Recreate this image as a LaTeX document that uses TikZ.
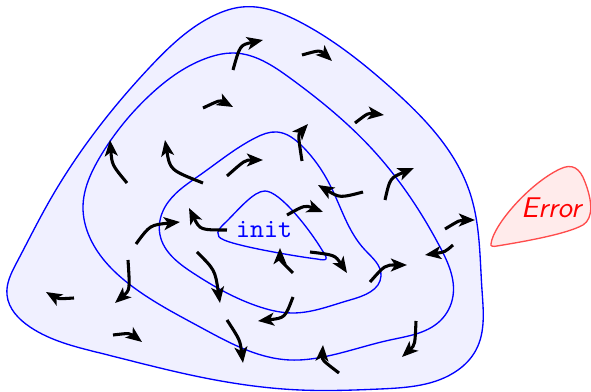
\documentclass[tikz,border=0pt]{standalone}
\usetikzlibrary{arrows.meta,hobby}
\begin{document}
\begin{tikzpicture}[x=0.375pt,y=-0.375pt,
  contour/.style={blue, line width=0.5pt, use Hobby shortcut, closed=true},
  flow/.style={line width=1.15pt, -{Stealth[length=6pt,width=4.8pt,inset=1.5pt]}}]
\useasboundingbox (0,0) rectangle (591,392);
% outer region
\draw[contour, fill=blue!6] (242,7) .. (300,22) .. (390,87) .. (470,193)
 .. (482,290) .. (476,350) .. (458,370) .. (380,389) .. (300,390) .. (200,377)
 .. (100,353) .. (30,327) .. (7,295) .. (17,262) .. (50,200) .. (150,67) .. (215,15);
% ring 2
\draw[contour] (233,53) .. (290,78) .. (373,150) .. (440,247) .. (453,296)
 .. (440,321) .. (390,340) .. (323,357) .. (290,360) .. (200,327) .. (133,287)
 .. (90,238) .. (83,207) .. (100,157) .. (150,95) .. (210,57);
% ring 3
\draw[contour] (277,132) .. (302,146) .. (330,185) .. (365,250) .. (381,276)
 .. (350,300) .. (293,313) .. (260,307) .. (193,273) .. (160,235) .. (165,207)
 .. (200,175) .. (255,138);
% inner region
\draw[blue, line width=0.5pt] (265,191) .. controls (280,191) and (310,230) .. (322,250)
 .. controls (329,260) and (327,261) .. (317,259)
 .. controls (300,257) and (240,247) .. (224,240)
 .. controls (214,236) and (217,230) .. (226,222)
 .. controls (240,208) and (254,191) .. (265,191) -- cycle;
\node[blue, font=\ttfamily] (init) at (264,230) {init};
% error region
\draw[red!70, line width=0.5pt, fill=red!8]
 (491,244) .. controls (493,225) and (530,183) .. (560,169)
 .. controls (572,163) and (580,168) .. (585,182)
 .. controls (592,200) and (594,218) .. (583,225)
 .. controls (565,235) and (515,243) .. (497,246)
 .. controls (493,247) and (490,246) .. (491,244) -- cycle;
\node[red, font=\sffamily\itshape, scale=1.07] (err) at (551,208) {Error};
% flow arrows
\draw[flow] (233,70) .. controls (240,45) .. (263,40);
\draw[flow] (302,55) .. controls (320,50) .. (332,61);
\draw[flow] (203,108) .. controls (220,100) .. (233,107);
\draw[flow] (355,123) .. controls (368,113) .. (384,115);
\draw[flow] (127,183) .. controls (112,165) .. (110,140);
\draw[flow] (203,183) .. controls (170,170) .. (165,140);
\draw[flow] (227,176) .. controls (245,160) .. (263,160);
\draw[flow] (302,161) .. controls (298,135) .. (308,124);
\draw[flow] (363,192) .. controls (340,198) .. (318,185);
\draw[flow] (385,200) .. controls (390,178) .. (414,168);
\draw[flow] (136,244) .. controls (150,225) .. (180,222);
\draw[flow] (227,230) .. controls (200,230) .. (189,208);
\draw[flow] (287,215) .. controls (305,205) .. (323,212);
\draw[flow] (445,229) .. controls (460,220) .. (475,220);
\draw[flow] (453,245) .. controls (445,252) .. (425,255);
\draw[flow] (128,260) .. controls (130,290) .. (115,303);
\draw[flow] (197,252) .. controls (215,270) .. (220,303);
\draw[flow] (293,273) .. controls (280,260) .. (280,248);
\draw[flow] (310,252) .. controls (335,255) .. (347,273);
\draw[flow] (370,282) .. controls (385,265) .. (407,265);
\draw[flow] (74,298) .. controls (58,299) .. (46,292);
\draw[flow] (113,335) .. controls (130,333) .. (142,342);
\draw[flow] (227,320) .. controls (240,340) .. (243,363);
\draw[flow] (293,297) .. controls (285,318) .. (258,321);
\draw[flow] (416,321) .. controls (415,345) .. (402,357);
\draw[flow] (339,373) .. controls (322,360) .. (323,345);
\end{tikzpicture}
\end{document}
